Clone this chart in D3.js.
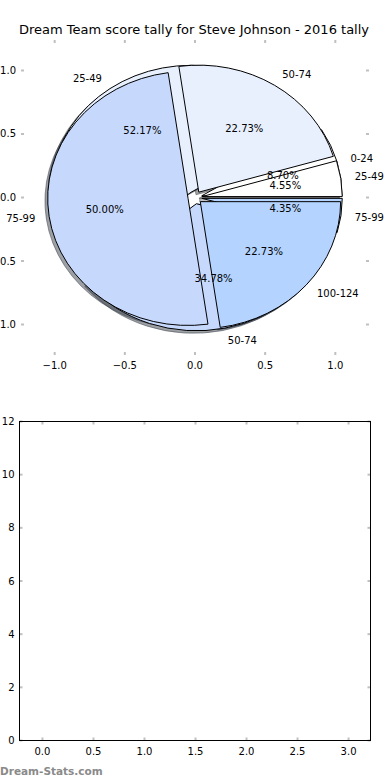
<!DOCTYPE html>
<html>
<head>
<meta charset="utf-8">
<script src="https://cdn.jsdelivr.net/npm/d3@7"></script>
<style>
body { margin: 0; background: #fff; }
text { font-family: "DejaVu Sans", sans-serif; }
</style>
</head>
<body>
<script>
var width = 390;
var height = 780;

// two tallies drawn on the same pie axes (first one sits underneath)
var labelsUnder = ["0-24", "25-49", "50-74", "75-99"];
var countsUnder = [2, 12, 8, 1];
var labelsOver = ["25-49", "50-74", "75-99", "100-124"];
var countsOver = [1, 5, 11, 5];
var sliceColors = ["#ffffff", "#e8f0fe", "#c6d9fd", "#b4d4ff"];

var pieTicks = [-1.0, -0.5, 0.0, 0.5, 1.0];
var barXTicks = [0, 0.5, 1, 1.5, 2, 2.5, 3];
var barYTicks = [0, 2, 4, 6, 8, 10, 12];

var explode = 0.05;
var tickColor = "#c0c0c0";

var svg = d3.select("body")
    .append("svg")
    .attr("width", width)
    .attr("height", height);

svg.append("text")
    .attr("x", 194)
    .attr("y", 34)
    .attr("text-anchor", "middle")
    .style("font-size", "13px")
    .text("Dream Team score tally for Steve Johnson - 2016 tally");

// ---- pie axes ----
var x = d3.scaleLinear().domain([-1.24, 1.24]).range([21, 369]);
var y = d3.scaleLinear().domain([-1.24, 1.24]).range([355, 40]);
var sx = x(1) - x(0);
var sy = y(0) - y(1);

var pie = d3.pie()
    .sort(null)
    .startAngle(Math.PI / 2)
    .endAngle(Math.PI / 2 - 2 * Math.PI);

var arc = d3.arc().innerRadius(0).outerRadius(1);

// angle counter-clockwise from 3 o'clock
function theta(d) {
    return Math.PI / 2 - (d.startAngle + d.endAngle) / 2;
}

var sets = [
    { labels: labelsUnder, counts: countsUnder },
    { labels: labelsOver, counts: countsOver }
];
sets.forEach(function(s) {
    s.arcs = pie(s.counts);
    s.total = d3.sum(s.counts);
});

var pieG = svg.append("g")
    .attr("transform", "translate(" + x(0) + "," + y(0) + ") scale(" + sx + "," + sy + ")");

function shadowColor(c) {
    var r = d3.rgb(c);
    return d3.rgb(r.r * 0.3, r.g * 0.3, r.b * 0.3).toString();
}

// shadows go below every wedge
sets.forEach(function(s) {
    pieG.append("g")
        .selectAll("path")
        .data(s.arcs)
        .enter().append("path")
        .attr("d", arc)
        .attr("transform", function(d) {
            var t = theta(d);
            return "translate(" + (explode * Math.cos(t) - 0.02) + "," + (-explode * Math.sin(t) + 0.02) + ")";
        })
        .attr("fill", function(d, i) { return shadowColor(sliceColors[i]); })
        .attr("fill-opacity", 0.5)
        .attr("stroke", function(d, i) { return shadowColor(sliceColors[i]); })
        .attr("stroke-opacity", 0.5)
        .attr("vector-effect", "non-scaling-stroke")
        .attr("stroke-width", 1);
});

sets.forEach(function(s) {
    pieG.append("g")
        .selectAll("path")
        .data(s.arcs)
        .enter().append("path")
        .attr("d", arc)
        .attr("transform", function(d) {
            var t = theta(d);
            return "translate(" + (explode * Math.cos(t)) + "," + (-explode * Math.sin(t)) + ")";
        })
        .attr("fill", function(d, i) { return sliceColors[i]; })
        .attr("stroke", "#000")
        .attr("vector-effect", "non-scaling-stroke")
        .attr("stroke-width", 1);
});

sets.forEach(function(s) {
    var g = svg.append("g").style("font-size", "10px");
    s.arcs.forEach(function(d, i) {
        var t = theta(d);
        var cx = explode * Math.cos(t);
        var cy = explode * Math.sin(t);
        var lx = cx + 1.1 * Math.cos(t);
        g.append("text")
            .attr("x", x(lx))
            .attr("y", y(cy + 1.1 * Math.sin(t)))
            .attr("dy", "0.35em")
            .attr("text-anchor", lx > 0 ? "start" : "end")
            .text(s.labels[i]);
        g.append("text")
            .attr("x", x(cx + 0.6 * Math.cos(t)))
            .attr("y", y(cy + 0.6 * Math.sin(t)))
            .attr("dy", "0.35em")
            .attr("text-anchor", "middle")
            .text((100 * s.counts[i] / s.total).toFixed(2) + "%");
    });
});

var fmt1 = d3.format(".1f");
var tickLen = 3;

function drawTicks(g, xs, ys, xsc, ysc, xLabel, yLabel) {
    var x0 = xsc.range()[0], x1 = xsc.range()[1];
    var y0 = ysc.range()[0], y1 = ysc.range()[1];
    xs.forEach(function(v) {
        g.append("line").attr("x1", xsc(v)).attr("x2", xsc(v)).attr("y1", y0).attr("y2", y0 - tickLen);
        g.append("line").attr("x1", xsc(v)).attr("x2", xsc(v)).attr("y1", y1).attr("y2", y1 + tickLen);
        g.append("text")
            .attr("x", xsc(v))
            .attr("y", y0 + 14)
            .attr("text-anchor", "middle")
            .attr("stroke", "none")
            .attr("fill", "#000")
            .text(xLabel(v));
    });
    ys.forEach(function(v) {
        g.append("line").attr("x1", x0).attr("x2", x0 + tickLen).attr("y1", ysc(v)).attr("y2", ysc(v));
        g.append("line").attr("x1", x1).attr("x2", x1 - tickLen).attr("y1", ysc(v)).attr("y2", ysc(v));
        g.append("text")
            .attr("x", x0 - 5)
            .attr("y", ysc(v))
            .attr("dy", "0.35em")
            .attr("text-anchor", "end")
            .attr("stroke", "none")
            .attr("fill", "#000")
            .text(yLabel(v));
    });
}

var pieAxis = svg.append("g")
    .attr("stroke", tickColor)
    .attr("stroke-width", 2)
    .style("font-size", "10px");
drawTicks(pieAxis, pieTicks, pieTicks, x, y, fmt1, fmt1);

// ---- empty bar axes ----
var bx = d3.scaleLinear().domain([-0.225, 3.215]).range([19.5, 370.5]);
var by = d3.scaleLinear().domain([0, 12]).range([740.5, 421.5]);

var barAxis = svg.append("g")
    .attr("stroke", tickColor)
    .attr("stroke-width", 2)
    .style("font-size", "10px");
drawTicks(barAxis, barXTicks, barYTicks, bx, by, fmt1, d3.format("d"));

svg.append("rect")
    .attr("x", bx.range()[0])
    .attr("y", by.range()[1])
    .attr("width", bx.range()[1] - bx.range()[0])
    .attr("height", by.range()[0] - by.range()[1])
    .attr("fill", "none")
    .attr("stroke", "#000")
    .attr("stroke-width", 1);

svg.append("text")
    .attr("x", 0)
    .attr("y", 775)
    .attr("fill", "#8a8a8a")
    .style("font-size", "10.5px")
    .style("font-weight", "bold")
    .text("Dream-Stats.com");
</script>
</body>
</html>
